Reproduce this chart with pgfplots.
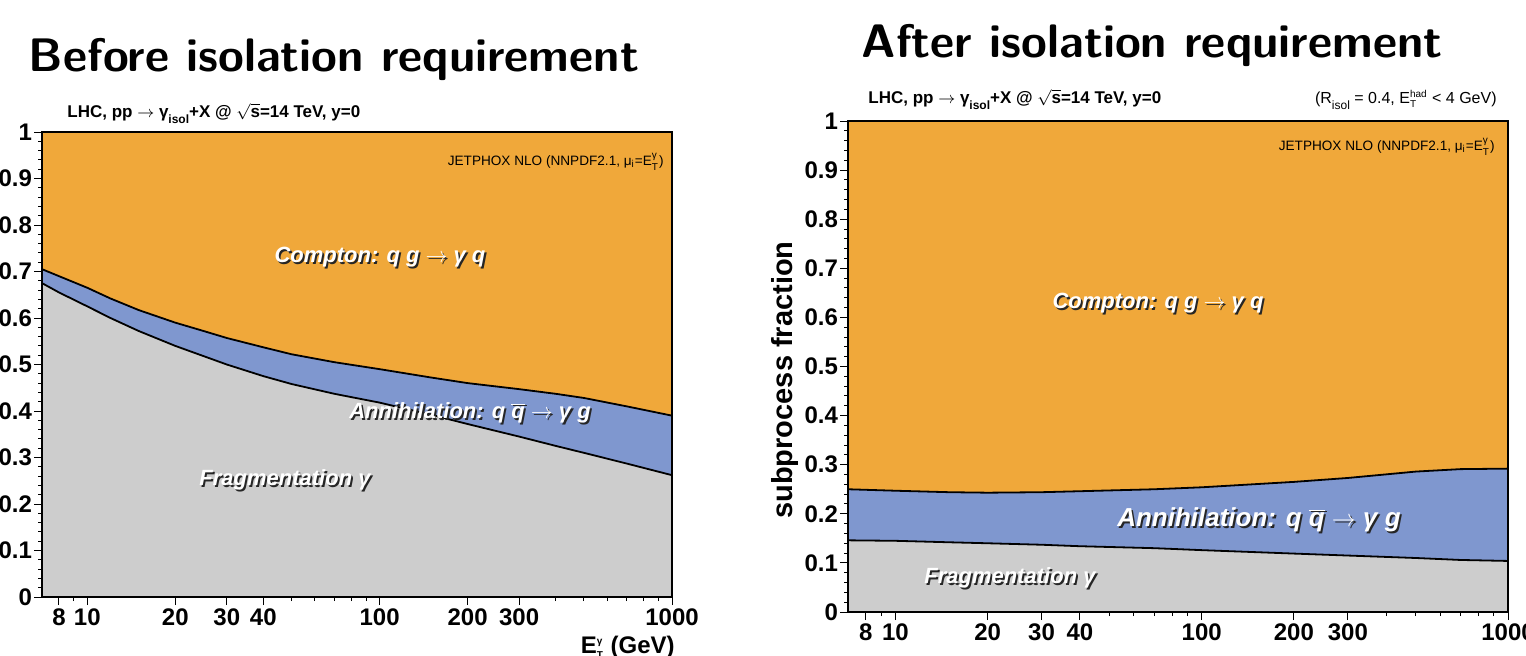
\documentclass[border=0pt]{standalone}
\usepackage{fontspec}
\setmainfont{Liberation Sans}
\usepackage{pgfplots}
\usepackage{pgfplotstable}
\pgfplotsset{compat=1.18}
\definecolor{comp}{RGB}{240,168,58}
\definecolor{ann}{RGB}{127,151,207}
\definecolor{frag}{RGB}{205,205,205}

\pgfplotstableread{
x lo up
7 0.675 0.705
8 0.655 0.690
10 0.625 0.665
12 0.600 0.642
15 0.572 0.617
20 0.540 0.590
25 0.518 0.572
30 0.500 0.557
40 0.475 0.537
50 0.458 0.522
70 0.437 0.505
100 0.418 0.490
150 0.392 0.472
200 0.372 0.460
300 0.345 0.447
400 0.325 0.437
500 0.310 0.428
700 0.287 0.410
1000 0.262 0.390
}\leftdata

\pgfplotstableread{
x lo up
7 0.146 0.250
10 0.145 0.247
15 0.142 0.244
20 0.140 0.243
30 0.137 0.244
40 0.134 0.246
70 0.130 0.250
100 0.126 0.254
200 0.119 0.265
300 0.115 0.273
500 0.110 0.286
700 0.106 0.291
1000 0.104 0.292
}\rightdata

\newcommand{\shlabel}[4]{%
  \node[text=black!85, font=\bfseries\itshape\fontsize{#4}{#4}\selectfont, xshift=0.9pt, yshift=-0.9pt] at (#1,#2) {#3};
  \node[text=white, font=\bfseries\itshape\fontsize{#4}{#4}\selectfont] at (#1,#2) {#3};}
\newcommand{\supsub}[2]{\ensuremath{^{\hbox{\fontsize{5}{5}\selectfont #1}}_{\hbox{\fontsize{5}{5}\selectfont #2}}}}
\newcommand{\lsub}[1]{\raisebox{-0.75ex}{\fontsize{6}{6}\selectfont #1}}
\newcommand{\ar}{\ensuremath{\rightarrow}}

\begin{document}
\begin{tikzpicture}
\useasboundingbox (0,0) rectangle (763pt,327.5pt);

% ---------- left panel ----------
\begin{axis}[at={(21pt,29pt)}, anchor=south west, width=315pt, height=232.5pt,
  scale only axis, xmode=log, xmin=7, xmax=1000, ymin=0, ymax=1,
  axis background/.style={fill=comp},
  xtick={8,10,20,30,40,100,200,300,1000},
  xticklabels={8,10,20,30,40,100,200,300,1000},
  minor xtick={9,50,60,70,80,90,400,500,600,700,800,900},
  ytick={0,0.1,0.2,0.3,0.4,0.5,0.6,0.7,0.8,0.9,1},
  yticklabels={0,0.1,0.2,0.3,0.4,0.5,0.6,0.7,0.8,0.9,1},
  minor y tick num=4,
  tick align=outside, tick pos=left,
  major tick length=4pt, minor tick length=2pt,
  tick style={black, line width=0.5pt},
  ticklabel style={font=\fontsize{12}{12}\selectfont\bfseries},
  xticklabel style={yshift=1.5pt},
  yticklabel style={xshift=2.5pt},
  /pgf/number format/assume math mode=true,
  axis line style={line width=0.6pt},
  axis on top]
\addplot[fill=ann, draw=none] table[x=x,y=up]{\leftdata} \closedcycle;
\addplot[fill=frag, draw=none] table[x=x,y=lo]{\leftdata} \closedcycle;
\addplot[black, line width=0.9pt] table[x=x,y=up]{\leftdata};
\addplot[black, line width=0.9pt] table[x=x,y=lo]{\leftdata};
\end{axis}

% ---------- right panel ----------
\begin{axis}[at={(424pt,21.5pt)}, anchor=south west, width=330pt, height=245.5pt,
  scale only axis, xmode=log, xmin=7, xmax=1000, ymin=0, ymax=1,
  axis background/.style={fill=comp},
  xtick={8,10,20,30,40,100,200,300,1000},
  xticklabels={8,10,20,30,40,100,200,300,1000},
  minor xtick={9,50,60,70,80,90,400,500,600,700,800,900},
  ytick={0,0.1,0.2,0.3,0.4,0.5,0.6,0.7,0.8,0.9,1},
  yticklabels={0,0.1,0.2,0.3,0.4,0.5,0.6,0.7,0.8,0.9,1},
  minor y tick num=4,
  tick align=outside, tick pos=left,
  major tick length=4pt, minor tick length=2pt,
  tick style={black, line width=0.5pt},
  ticklabel style={font=\fontsize{12}{12}\selectfont\bfseries},
  xticklabel style={yshift=1.5pt},
  yticklabel style={xshift=2.5pt},
  /pgf/number format/assume math mode=true,
  axis line style={line width=0.6pt},
  axis on top]
\addplot[fill=ann, draw=none] table[x=x,y=up]{\rightdata} \closedcycle;
\addplot[fill=frag, draw=none] table[x=x,y=lo]{\rightdata} \closedcycle;
\addplot[black, line width=0.9pt] table[x=x,y=up]{\rightdata};
\addplot[black, line width=0.9pt] table[x=x,y=lo]{\rightdata};
\end{axis}

% titles
\node[font=\sffamily\bfseries\fontsize{23.5}{23.5}\selectfont] at (167pt,298pt) {Before isolation requirement};
\node[font=\sffamily\bfseries\fontsize{23.5}{23.5}\selectfont] at (576pt,305pt) {After isolation requirement};

% subtitles
\node[anchor=base west, font=\bfseries\fontsize{8.5}{8.5}\selectfont, inner sep=0pt] at (33.5pt,269pt)
  {LHC, pp \ar\ γ\lsub{isol}+X @ \ensuremath{\sqrt{\hbox{s}}}=14 TeV, y=0};
\node[anchor=base west, font=\bfseries\fontsize{8.5}{8.5}\selectfont, inner sep=0pt] at (434pt,276pt)
  {LHC, pp \ar\ γ\lsub{isol}+X @ \ensuremath{\sqrt{\hbox{s}}}=14 TeV, y=0};
\node[anchor=base east, font=\fontsize{8}{8}\selectfont, inner sep=0pt] at (748.5pt,276pt)
  {(R\lsub{isol} = 0.4, E\supsub{had}{T} < 4 GeV)};
\node[anchor=base east, font=\fontsize{6.8}{6.8}\selectfont, inner sep=0pt] at (332pt,245pt)
  {JETPHOX NLO (NNPDF2.1, μ\ensuremath{_{\hbox{\fontsize{5}{5}\selectfont i}}}=E\supsub{γ}{T})};
\node[anchor=base east, font=\fontsize{6.8}{6.8}\selectfont, inner sep=0pt] at (747.5pt,252.5pt)
  {JETPHOX NLO (NNPDF2.1, μ\ensuremath{_{\hbox{\fontsize{5}{5}\selectfont i}}}=E\supsub{γ}{T})};

% in-plot labels
\shlabel{190pt}{199pt}{Compton: q g \ar\ γ q}{11}
\shlabel{235pt}{121pt}{Annihilation: q \ensuremath{\overline{\hbox{q}}} \ar\ γ g}{11}
\shlabel{142.5pt}{87.5pt}{Fragmentation γ}{11}
\shlabel{579pt}{176pt}{Compton: q g \ar\ γ q}{11}
\shlabel{629.5pt}{67.5pt}{Annihilation: q \ensuremath{\overline{\hbox{q}}} \ar\ γ g}{13}
\shlabel{505pt}{38.5pt}{Fragmentation γ}{11}

% axis labels
\node[rotate=90, font=\bfseries\fontsize{14.5}{14.5}\selectfont] at (392.5pt,137.5pt) {subprocess fraction};
\node[anchor=base east, font=\bfseries\fontsize{12}{12}\selectfont, inner sep=0pt] at (337.5pt,1pt)
  {E\supsub{γ}{T} (GeV)};
\end{tikzpicture}
\end{document}
